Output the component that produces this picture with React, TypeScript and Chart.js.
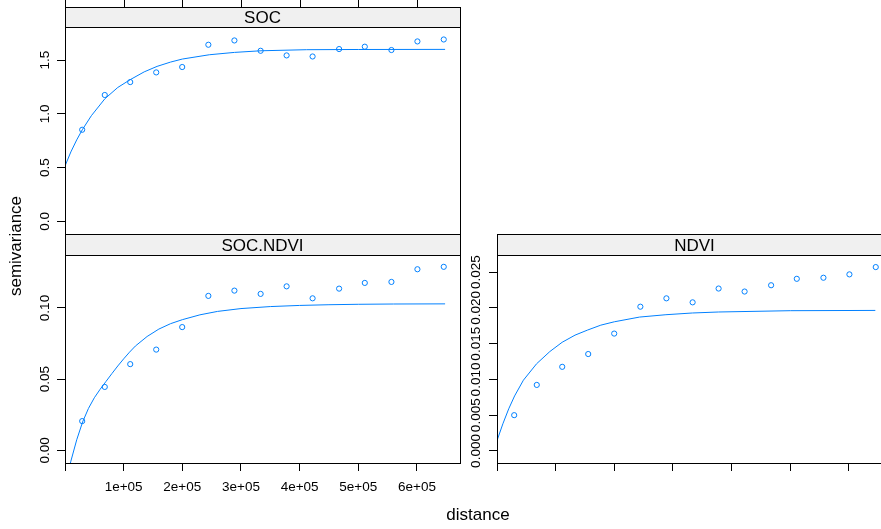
import React, { useEffect, useRef } from 'react';
import { Chart, registerables } from 'chart.js';

Chart.register(...registerables);

// ---- data ----
const distances = [29300, 67800, 111200, 155500, 199800, 244400, 288800, 333500, 377800, 422100, 467300, 511100, 556500, 600800, 645700];
const socGamma = [0.852, 1.175, 1.295, 1.385, 1.435, 1.642, 1.682, 1.586, 1.543, 1.533, 1.602, 1.624, 1.593, 1.673, 1.691];
const socNdviGamma = [0.0206, 0.0446, 0.0606, 0.0708, 0.0866, 0.1085, 0.1122, 0.1099, 0.1152, 0.1068, 0.1136, 0.1176, 0.1183, 0.1272, 0.1289];
const ndviGamma = [0.00501, 0.00924, 0.01177, 0.01356, 0.01642, 0.02018, 0.02135, 0.02079, 0.02272, 0.0223, 0.02318, 0.02408, 0.02423, 0.0247, 0.02572];

// fitted model lines
const socFitDist = [0, 10000, 20000, 29500, 45000, 68000, 90000, 111000, 135000, 157000, 180000, 200000, 246000, 289000, 334000, 412000, 500000, 648000];
const socFitGamma = [0.515, 0.646, 0.758, 0.852, 0.983, 1.14, 1.245, 1.317, 1.39, 1.441, 1.481, 1.509, 1.549, 1.571, 1.586, 1.596, 1.598, 1.599];
const socNdviFitDist = [0, 10000, 20000, 30000, 40000, 50000, 60000, 70000, 80000, 90000, 100000, 110000, 120000, 140000, 160000, 180000, 200000, 230000, 260000, 300000, 350000, 400000, 450000, 500000, 560000, 648000];
const socNdviFitGamma = [-0.025, -0.0075, 0.0075, 0.02, 0.0295, 0.037, 0.043, 0.0485, 0.054, 0.0593, 0.0643, 0.069, 0.0733, 0.0800, 0.0852, 0.089, 0.0918, 0.0952, 0.0976, 0.0996, 0.1010, 0.1018, 0.1023, 0.1026, 0.1028, 0.1029];
const ndviFitDist = [0, 10000, 20000, 30000, 45000, 67500, 90000, 111000, 133000, 154000, 177000, 200000, 243000, 288000, 333000, 378000, 500000, 645000];
const ndviFitGamma = [0.00145, 0.0038, 0.0059, 0.0077, 0.0099, 0.0122, 0.0139, 0.0152, 0.0162, 0.0169, 0.0176, 0.01807, 0.01873, 0.01906, 0.0193, 0.01944, 0.01962, 0.01966];

const xTicks = [0, 100000, 200000, 300000, 400000, 500000, 600000];
const xTickLabels = ['', '1e+05', '2e+05', '3e+05', '4e+05', '5e+05', '6e+05'];
const xMax = 673400;

const socYTicks = [0, 0.5, 1.0, 1.5];
const socYLabels = ['0.0', '0.5', '1.0', '1.5'];
const socNdviYTicks = [0, 0.05, 0.1];
const socNdviYLabels = ['0.00', '0.05', '0.10'];
const ndviYTicks = [0, 0.005, 0.01, 0.015, 0.02, 0.025];
const ndviYLabels = ['0.000', '0.005', '0.010', '0.015', '0.020', '0.025'];

const COLOR = '#0080ff';
const CANVAS_W = 900;
const CANVAS_H = 529;
const TICK = 8;
const FONT = '"Liberation Sans", Arial, sans-serif';

type PanelCfg = {
  name: string;
  gamma: number[];
  fitDist: number[];
  fitGamma: number[];
  yMin: number;
  yMax: number;
  yTicks: number[];
  yLabels: string[];
  area: { left: number; top: number; right: number; bottom: number };
  stripH: number;
  yLabelX: number;
  xLabels: boolean;
  topTicks: boolean;
  titles: boolean;
};

const panels: PanelCfg[] = [
  {
    name: 'SOC', gamma: socGamma, fitDist: socFitDist, fitGamma: socFitGamma,
    yMin: -0.117, yMax: 1.807, yTicks: socYTicks, yLabels: socYLabels,
    area: { left: 65, top: 27, right: 460, bottom: 234 }, stripH: 20, yLabelX: 45,
    xLabels: false, topTicks: true, titles: false,
  },
  {
    name: 'SOC.NDVI', gamma: socNdviGamma, fitDist: socNdviFitDist, fitGamma: socNdviFitGamma,
    yMin: -0.0088, yMax: 0.1372, yTicks: socNdviYTicks, yLabels: socNdviYLabels,
    area: { left: 65, top: 255, right: 460, bottom: 463 }, stripH: 21, yLabelX: 45,
    xLabels: true, topTicks: false, titles: true,
  },
  {
    name: 'NDVI', gamma: ndviGamma, fitDist: ndviFitDist, fitGamma: ndviFitGamma,
    yMin: -0.00168, yMax: 0.02741, yTicks: ndviYTicks, yLabels: ndviYLabels,
    area: { left: 497, top: 255, right: 892, bottom: 463 }, stripH: 21, yLabelX: 476,
    xLabels: false, topTicks: false, titles: false,
  },
];

function makeChart(canvas: HTMLCanvasElement, p: PanelCfg) {
  const deco = {
    id: 'deco' + p.name.replace('.', ''),
    afterDraw(chart: any) {
      const ctx = chart.ctx as CanvasRenderingContext2D;
      const ca = chart.chartArea;
      const xs = chart.scales.x;
      const ys = chart.scales.y;
      const L = Math.round(ca.left) + 0.5;
      const R = Math.round(ca.right) + 0.5;
      const T = Math.round(ca.top) + 0.5;
      const B = Math.round(ca.bottom) + 0.5;
      const ST = Math.round(ca.top - p.stripH) + 0.5;
      ctx.save();
      // strip
      ctx.fillStyle = '#f0f0f0';
      ctx.fillRect(L, ST, R - L, T - ST);
      ctx.strokeStyle = '#000';
      ctx.lineWidth = 1;
      ctx.strokeRect(L, ST, R - L, T - ST);
      // frame
      ctx.strokeRect(L, T, R - L, B - T);
      // strip label
      ctx.fillStyle = '#000';
      ctx.font = `17px ${FONT}`;
      ctx.textAlign = 'center';
      ctx.textBaseline = 'middle';
      ctx.fillText(p.name, (ca.left + Math.min(ca.right, 892)) / 2, (ST + T) / 2 + 1);
      // top ticks
      if (p.topTicks) {
        ctx.beginPath();
        xTicks.forEach((v) => {
          const x = Math.round(xs.getPixelForValue(v)) + 0.5;
          ctx.moveTo(x, ST);
          ctx.lineTo(x, ST - TICK);
        });
        ctx.stroke();
      }
      // y tick labels (rotated)
      ctx.font = `13.5px ${FONT}`;
      p.yTicks.forEach((v, i) => {
        const y = ys.getPixelForValue(v);
        ctx.save();
        ctx.translate(p.yLabelX, y);
        ctx.rotate(-Math.PI / 2);
        ctx.fillText(p.yLabels[i], 0, 0);
        ctx.restore();
      });
      // x tick labels
      if (p.xLabels) {
        xTicks.forEach((v, i) => {
          if (!xTickLabels[i]) return;
          ctx.fillText(xTickLabels[i], xs.getPixelForValue(v), 487);
        });
      }
      if (p.titles) {
        ctx.font = `17px ${FONT}`;
        ctx.fillText('distance', 478, 515);
        ctx.save();
        ctx.translate(16, 246);
        ctx.rotate(-Math.PI / 2);
        ctx.fillText('semivariance', 0, 0);
        ctx.restore();
      }
      ctx.restore();
    },
  };

  const xDisplay = p.xLabels || p.name === 'NDVI';
  const xH = xDisplay ? TICK : 0;

  return new Chart(canvas, {
    type: 'scatter',
    data: {
      datasets: [
        {
          label: 'model',
          data: p.fitDist.map((d, i) => ({ x: d, y: p.fitGamma[i] })),
          showLine: true,
          borderColor: COLOR,
          borderWidth: 1,
          pointRadius: 0,
          fill: false,
          tension: 0,
        },
        {
          label: 'sample',
          data: distances.map((d, i) => ({ x: d, y: p.gamma[i] })),
          showLine: false,
          pointStyle: 'circle',
          pointRadius: 2.6,
          borderColor: COLOR,
          backgroundColor: 'rgba(0,0,0,0)',
          borderWidth: 1,
        },
      ],
    },
    options: {
      responsive: false,
      animation: false,
      devicePixelRatio: 1,
      events: [],
      layout: {
        padding: {
          left: p.area.left - TICK,
          top: p.area.top,
          right: CANVAS_W - p.area.right,
          bottom: CANVAS_H - p.area.bottom - xH,
        },
      },
      plugins: { legend: { display: false }, tooltip: { enabled: false } },
      scales: {
        x: {
          type: 'linear',
          position: 'bottom',
          min: 0,
          max: xMax,
          display: xDisplay,
          afterBuildTicks: (s: any) => { s.ticks = xTicks.map((v) => ({ value: v })); },
          afterFit: (s: any) => { s.height = xH; },
          ticks: { display: false },
          border: { display: false },
          grid: { drawOnChartArea: false, drawTicks: true, tickLength: TICK, color: '#000', lineWidth: 1 },
        },
        y: {
          type: 'linear',
          position: 'left',
          min: p.yMin,
          max: p.yMax,
          afterBuildTicks: (s: any) => { s.ticks = p.yTicks.map((v) => ({ value: v })); },
          afterFit: (s: any) => { s.width = TICK; },
          ticks: { display: false },
          border: { display: false },
          grid: { drawOnChartArea: false, drawTicks: true, tickLength: TICK, color: '#000', lineWidth: 1 },
        },
      },
    },
    plugins: [deco],
  } as any);
}

export default function App() {
  const refs = [useRef<HTMLCanvasElement>(null), useRef<HTMLCanvasElement>(null), useRef<HTMLCanvasElement>(null)];
  useEffect(() => {
    const charts = panels.map((p, i) => makeChart(refs[i].current as HTMLCanvasElement, p));
    return () => charts.forEach((c) => c.destroy());
  }, []);
  return (
    <div style={{ position: 'fixed', left: 0, top: 0, width: 881, height: 529, overflow: 'hidden', background: '#fff' }}>
      {panels.map((p, i) => (
        <canvas
          key={p.name}
          ref={refs[i]}
          width={CANVAS_W}
          height={CANVAS_H}
          style={{ position: 'absolute', left: 0, top: 0, width: CANVAS_W, height: CANVAS_H }}
        />
      ))}
    </div>
  );
}
